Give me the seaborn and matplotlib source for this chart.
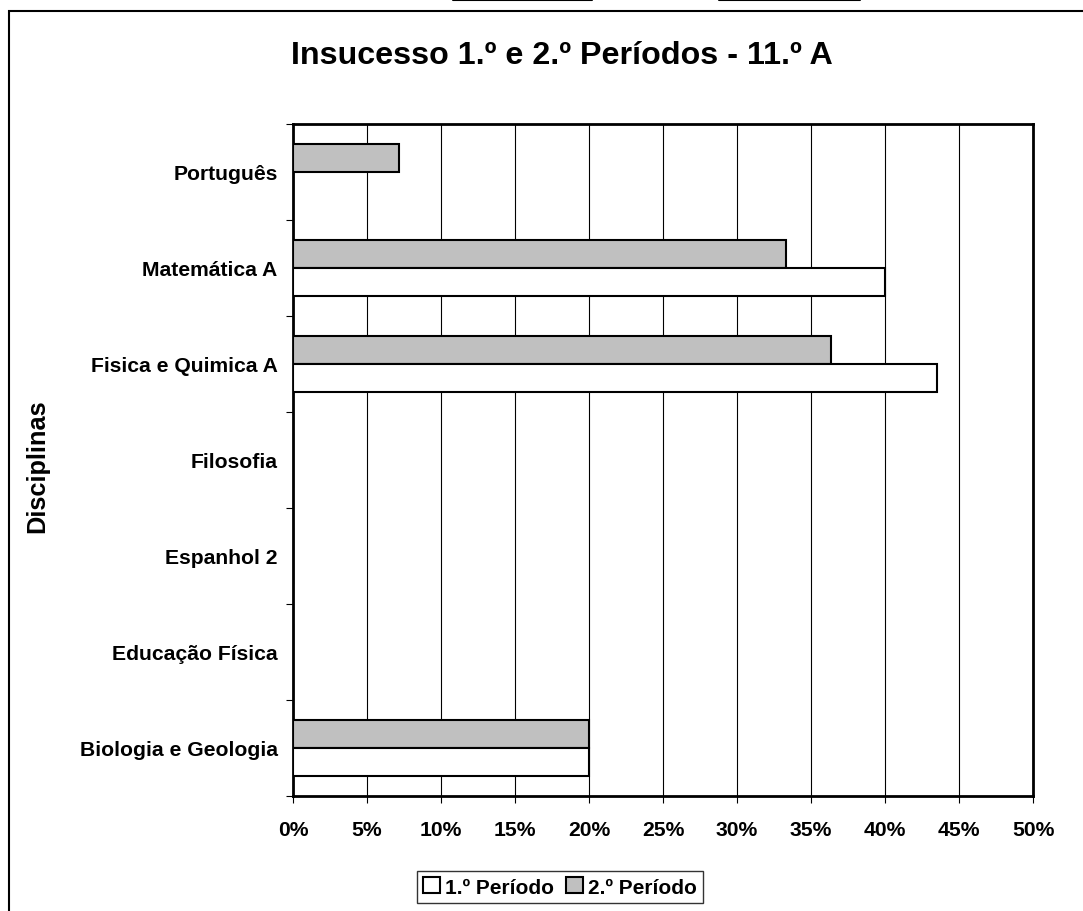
import pandas as pd
import numpy as np
import matplotlib
matplotlib.use('Agg')
import matplotlib.pyplot as plt
import seaborn as sns
from matplotlib.patches import Patch, Rectangle
from matplotlib.lines import Line2D
from matplotlib.ticker import FuncFormatter

# dados (de cima para baixo, como no gráfico)
disciplinas = ['Português', 'Matemática A', 'Fisica e Quimica A', 'Filosofia',
               'Espanhol 2', 'Educação Física', 'Biologia e Geologia']
periodo1 = [0.0, 0.40, 0.4348, 0.0, 0.0, 0.0, 0.20]
periodo2 = [0.0714, 0.3333, 0.3636, 0.0, 0.0, 0.0, 0.20]
periodos = ['1.º Período', '2.º Período']
cores = {'1.º Período': 'white', '2.º Período': '#C0C0C0'}
xticks = np.arange(0, 0.51, 0.05)

df = pd.DataFrame({
    'Disciplina': disciplinas * 2,
    'Valor': periodo1 + periodo2,
    'Período': [periodos[0]] * len(disciplinas) + [periodos[1]] * len(disciplinas),
})

sns.set_style('white')
plt.rcParams['font.family'] = ['Liberation Sans', 'DejaVu Sans']
plt.rcParams['font.weight'] = 'bold'
for k in ['text.color', 'axes.labelcolor', 'xtick.color', 'ytick.color']:
    plt.rcParams[k] = 'black'

fig = plt.figure(figsize=(10.83, 9.12), dpi=100)
ax = fig.add_axes([293/1083, 1-797/912, 740/1083, 672/912])

sns.barplot(data=df, y='Disciplina', x='Valor', hue='Período', order=disciplinas,
            hue_order=['2.º Período', '1.º Período'], palette=cores, orient='h',
            edgecolor='black', linewidth=1.5, width=0.58, errorbar=None,
            legend=False, ax=ax, zorder=3)

ax.set_xlim(0, 0.5)
ax.set_xticks(xticks)
ax.xaxis.set_major_formatter(FuncFormatter(lambda v, p: f'{v*100:.0f}%'))
ax.grid(axis='x', color='black', linewidth=0.8, zorder=0)
ax.set_axisbelow(True)
ax.tick_params(axis='x', direction='out', length=5, width=0.8, pad=12,
               labelsize=15.2, bottom=True, colors='black')

n = len(disciplinas)
ax.set_yticks(np.arange(-0.5, n, 1))
ax.set_yticklabels([''] * (n + 1))
ax.set_yticks(np.arange(n), labels=disciplinas, minor=True)
ax.tick_params(axis='y', which='major', direction='out', length=5, width=0.8,
               left=True, colors='black')
ax.tick_params(axis='y', which='minor', length=0, pad=11, labelsize=15.2, colors='black')
ax.set_ylim(n - 0.5, -0.5)
ax.set_xlabel('')
ax.set_ylabel('')
for s in ax.spines.values():
    s.set_visible(True)
    s.set_color('black')
    s.set_linewidth(2)
for lab in ax.get_xticklabels() + ax.get_yticklabels(minor=True):
    lab.set_fontweight('bold')

fig.text(562/1083, 1-56/912, 'Insucesso 1.º e 2.º Períodos - 11.º A',
         ha='center', va='center', fontsize=23.2, fontweight='bold', color='black')
fig.text(37/1083, 1-466/912, 'Disciplinas', rotation=90, ha='center', va='center',
         fontsize=18.3, fontweight='bold', color='black')

handles = [Patch(facecolor=cores[p], edgecolor='black', linewidth=1.5) for p in periodos]
leg = fig.legend(handles, periodos, loc='center', bbox_to_anchor=(560/1083, 1-888/912),
                 ncol=2, frameon=True, fancybox=False, edgecolor='black',
                 prop={'size': 15, 'weight': 'bold'}, handlelength=0.8,
                 handleheight=0.8, handletextpad=0.25, columnspacing=0.6,
                 borderpad=0.3, borderaxespad=0)
leg.get_frame().set_linewidth(1)
for t in leg.get_texts():
    t.set_color('black')

# moldura da área do gráfico
fig.add_artist(Rectangle((9/1083, -0.1), 1.2, 1.1 - 12/912, transform=fig.transFigure,
                         fill=False, edgecolor='black', linewidth=1.5, clip_on=False))
fig.add_artist(Line2D([453/1083, 592/1083], [1-1/912, 1-1/912], transform=fig.transFigure,
                      color='black', linewidth=1.5))
fig.add_artist(Line2D([719/1083, 860/1083], [1-1/912, 1-1/912], transform=fig.transFigure,
                      color='black', linewidth=1.5))

fig.savefig('out.png', dpi=100, facecolor='white')
